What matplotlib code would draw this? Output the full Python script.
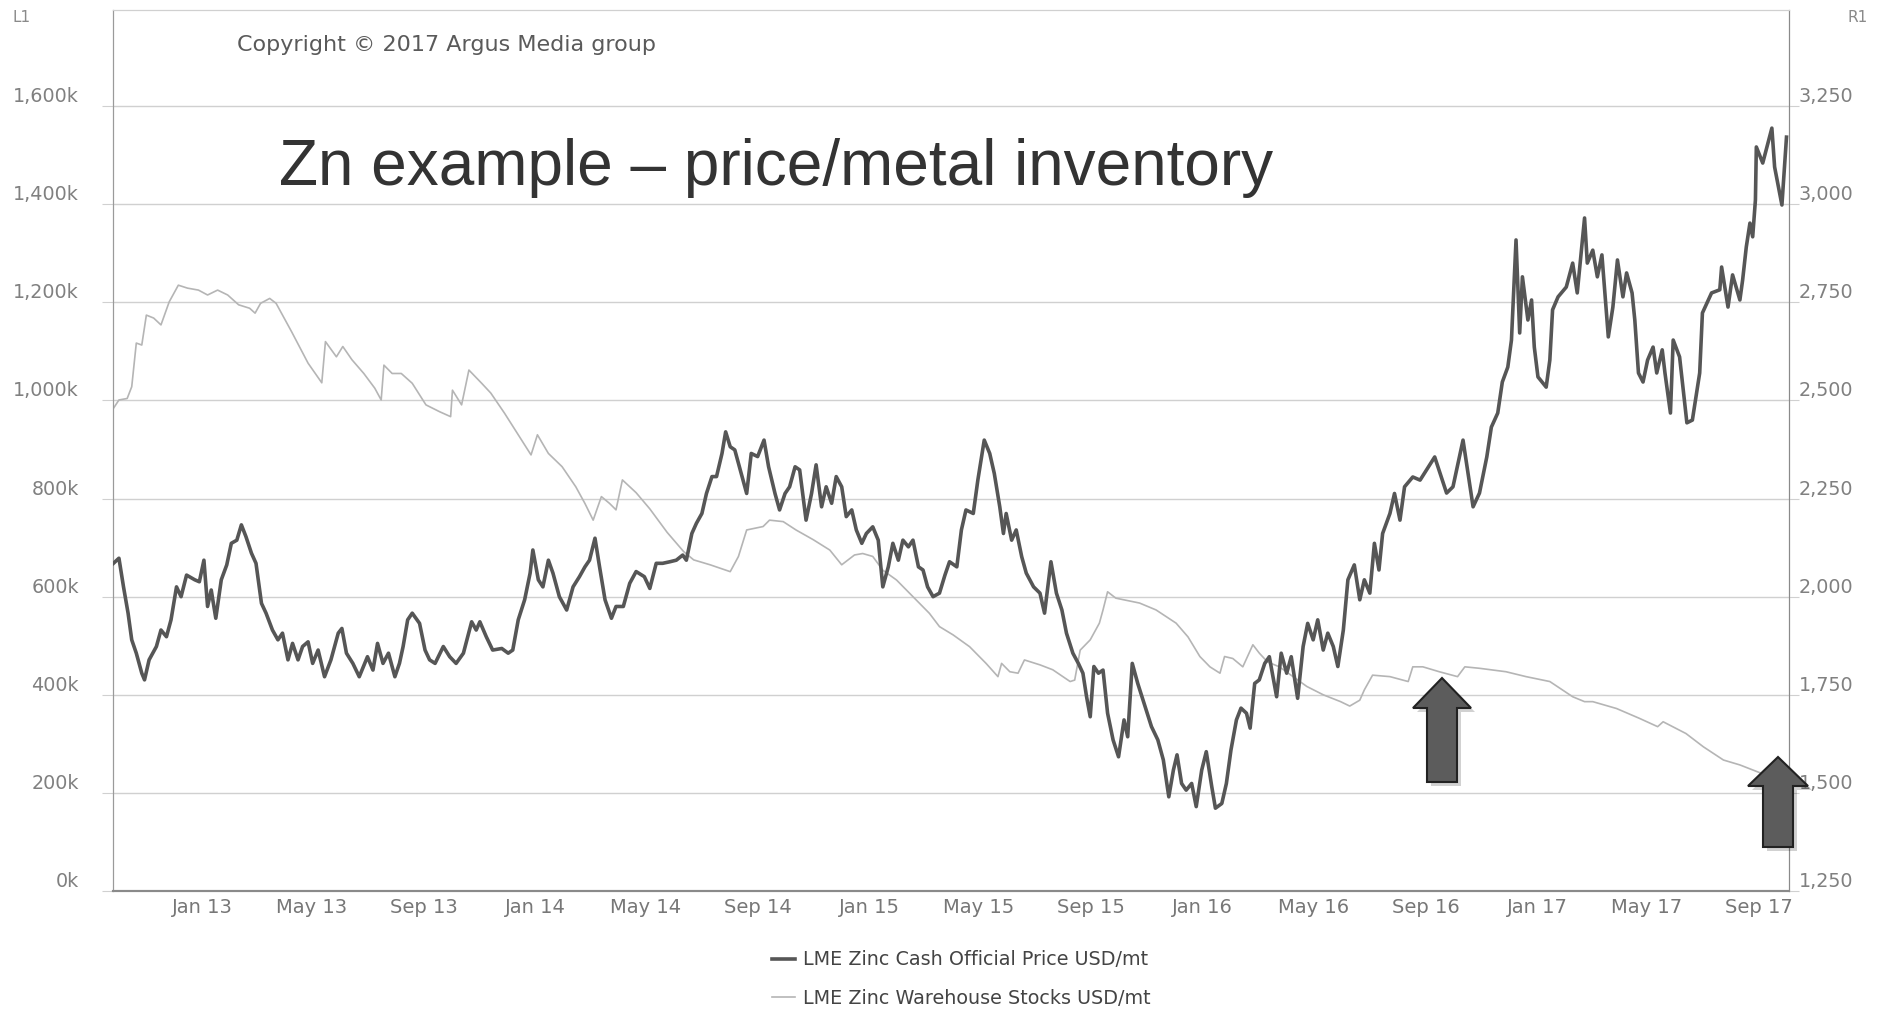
# Zn example - LME zinc price vs warehouse stocks

import pandas as pd
import matplotlib
matplotlib.use("Agg")
import matplotlib.pyplot as plt
import matplotlib.dates as mdates
from matplotlib.patches import Polygon
from matplotlib.ticker import FuncFormatter, FixedLocator

# LME Zinc Cash Official Price, USD/mt (right axis)
price_dates = [
    "2012-09-26", "2012-10-02", "2012-10-07", "2012-10-12", "2012-10-16", "2012-10-21", "2012-10-27", "2012-10-30",
    "2012-11-04", "2012-11-12", "2012-11-17", "2012-11-23", "2012-11-28", "2012-12-04", "2012-12-09", "2012-12-15",
    "2012-12-24", "2012-12-29", "2013-01-03", "2013-01-07", "2013-01-11", "2013-01-16", "2013-01-22", "2013-01-28",
    "2013-02-02", "2013-02-08", "2013-02-13", "2013-02-18", "2013-02-24", "2013-03-01", "2013-03-07", "2013-03-12",
    "2013-03-19", "2013-03-25", "2013-03-30", "2013-04-05", "2013-04-10", "2013-04-16", "2013-04-21", "2013-04-27",
    "2013-05-02", "2013-05-08", "2013-05-15", "2013-05-22", "2013-05-30", "2013-06-03", "2013-06-08", "2013-06-15",
    "2013-06-22", "2013-07-01", "2013-07-07", "2013-07-12", "2013-07-18", "2013-07-24", "2013-07-31", "2013-08-05",
    "2013-08-09", "2013-08-14", "2013-08-19", "2013-08-27", "2013-09-02", "2013-09-07", "2013-09-13", "2013-09-22",
    "2013-09-29", "2013-10-06", "2013-10-14", "2013-10-23", "2013-10-28", "2013-11-01", "2013-11-08", "2013-11-15",
    "2013-11-25", "2013-12-02", "2013-12-07", "2013-12-13", "2013-12-20", "2013-12-26", "2013-12-29", "2014-01-04",
    "2014-01-09", "2014-01-15", "2014-01-20", "2014-01-27", "2014-02-04", "2014-02-11", "2014-02-18", "2014-02-24",
    "2014-03-01", "2014-03-07", "2014-03-12", "2014-03-18", "2014-03-25", "2014-03-30", "2014-04-07", "2014-04-14",
    "2014-04-21", "2014-04-30", "2014-05-06", "2014-05-13", "2014-05-20", "2014-05-28", "2014-06-04", "2014-06-11",
    "2014-06-15", "2014-06-21", "2014-06-26", "2014-07-02", "2014-07-07", "2014-07-13", "2014-07-18", "2014-07-24",
    "2014-07-28", "2014-08-02", "2014-08-07", "2014-08-12", "2014-08-20", "2014-08-25", "2014-09-01", "2014-09-08",
    "2014-09-13", "2014-09-20", "2014-09-25", "2014-10-01", "2014-10-06", "2014-10-12", "2014-10-17", "2014-10-24",
    "2014-10-30", "2014-11-04", "2014-11-10", "2014-11-15", "2014-11-21", "2014-11-26", "2014-12-02", "2014-12-07",
    "2014-12-13", "2014-12-18", "2014-12-24", "2014-12-29", "2015-01-05", "2015-01-11", "2015-01-16", "2015-01-22",
    "2015-01-27", "2015-02-02", "2015-02-07", "2015-02-13", "2015-02-18", "2015-02-24", "2015-03-01", "2015-03-06",
    "2015-03-12", "2015-03-19", "2015-03-25", "2015-03-30", "2015-04-07", "2015-04-12", "2015-04-17", "2015-04-25",
    "2015-04-30", "2015-05-07", "2015-05-13", "2015-05-18", "2015-05-24", "2015-05-28", "2015-05-31", "2015-06-06",
    "2015-06-11", "2015-06-17", "2015-06-22", "2015-06-30", "2015-07-07", "2015-07-12", "2015-07-19", "2015-07-25",
    "2015-07-31", "2015-08-05", "2015-08-12", "2015-08-18", "2015-08-23", "2015-08-27", "2015-08-31", "2015-09-04",
    "2015-09-09", "2015-09-14", "2015-09-19", "2015-09-25", "2015-10-01", "2015-10-07", "2015-10-11", "2015-10-16",
    "2015-10-22", "2015-10-30", "2015-11-06", "2015-11-13", "2015-11-19", "2015-11-25", "2015-11-30", "2015-12-04",
    "2015-12-09", "2015-12-14", "2015-12-20", "2015-12-25", "2015-12-31", "2016-01-05", "2016-01-11", "2016-01-15",
    "2016-01-22", "2016-01-27", "2016-02-01", "2016-02-07", "2016-02-12", "2016-02-18", "2016-02-22", "2016-02-27",
    "2016-03-03", "2016-03-09", "2016-03-14", "2016-03-22", "2016-03-27", "2016-04-02", "2016-04-07", "2016-04-14",
    "2016-04-20", "2016-04-25", "2016-05-01", "2016-05-06", "2016-05-12", "2016-05-17", "2016-05-23", "2016-05-28",
    "2016-06-03", "2016-06-08", "2016-06-15", "2016-06-21", "2016-06-26", "2016-07-02", "2016-07-07", "2016-07-12",
    "2016-07-16", "2016-07-24", "2016-07-29", "2016-08-04", "2016-08-09", "2016-08-18", "2016-08-26", "2016-09-11",
    "2016-09-24", "2016-10-01", "2016-10-12", "2016-10-23", "2016-10-30", "2016-11-07", "2016-11-12", "2016-11-19",
    "2016-11-24", "2016-11-30", "2016-12-04", "2016-12-09", "2016-12-13", "2016-12-16", "2016-12-22", "2016-12-26",
    "2016-12-29", "2017-01-02", "2017-01-11", "2017-01-15", "2017-01-18", "2017-01-24", "2017-02-02", "2017-02-09",
    "2017-02-14", "2017-02-22", "2017-02-25", "2017-03-03", "2017-03-08", "2017-03-13", "2017-03-18", "2017-03-20",
    "2017-03-25", "2017-03-30", "2017-04-05", "2017-04-09", "2017-04-15", "2017-04-18", "2017-04-22", "2017-04-27",
    "2017-05-02", "2017-05-08", "2017-05-12", "2017-05-18", "2017-05-21", "2017-05-27", "2017-05-30", "2017-06-06",
    "2017-06-14", "2017-06-20", "2017-06-28", "2017-07-01", "2017-07-11", "2017-07-20", "2017-07-22", "2017-07-29",
    "2017-08-03", "2017-08-11", "2017-08-14", "2017-08-18", "2017-08-22", "2017-08-25", "2017-08-28", "2017-08-29",
    "2017-09-05", "2017-09-15", "2017-09-18", "2017-09-26", "2017-10-01",
]
price_values = [
    2085, 2098, 2025, 1958, 1890, 1856, 1805, 1788,
    1839, 1873, 1915, 1898, 1941, 2025, 2000, 2055,
    2043, 2038, 2093, 1975, 2017, 1945, 2043, 2081,
    2136, 2144, 2183, 2153, 2111, 2085, 1983, 1958,
    1915, 1890, 1907, 1839, 1881, 1839, 1873, 1885,
    1830, 1864, 1796, 1839, 1907, 1919, 1856, 1830,
    1796, 1847, 1813, 1881, 1830, 1856, 1796, 1830,
    1873, 1941, 1958, 1932, 1864, 1839, 1830, 1873,
    1847, 1830, 1856, 1936, 1915, 1936, 1898, 1864,
    1868, 1856, 1864, 1941, 1992, 2060, 2119, 2043,
    2025, 2093, 2060, 2000, 1966, 2025, 2051, 2076,
    2093, 2149, 2076, 1992, 1945, 1975, 1975, 2034,
    2064, 2051, 2021, 2085, 2085, 2089, 2093, 2106,
    2093, 2161, 2187, 2212, 2263, 2306, 2306, 2365,
    2420, 2382, 2374, 2331, 2263, 2365, 2357, 2399,
    2331, 2263, 2221, 2263, 2280, 2331, 2323, 2195,
    2263, 2336, 2229, 2280, 2238, 2306, 2280, 2204,
    2221, 2170, 2136, 2161, 2178, 2144, 2025, 2076,
    2136, 2093, 2144, 2127, 2144, 2076, 2068, 2025,
    2000, 2009, 2055, 2089, 2076, 2170, 2221, 2212,
    2297, 2399, 2365, 2314, 2229, 2161, 2212, 2144,
    2170, 2102, 2060, 2025, 2009, 1958, 2089, 2009,
    1966, 1907, 1856, 1830, 1805, 1745, 1694, 1822,
    1805, 1813, 1703, 1635, 1592, 1686, 1643, 1830,
    1779, 1720, 1669, 1635, 1584, 1490, 1558, 1597,
    1524, 1507, 1524, 1465, 1558, 1605, 1516, 1461,
    1473, 1524, 1609, 1686, 1716, 1703, 1665, 1779,
    1788, 1830, 1847, 1745, 1856, 1805, 1847, 1741,
    1873, 1932, 1890, 1941, 1864, 1907, 1873, 1822,
    1915, 2043, 2081, 1992, 2043, 2009, 2136, 2068,
    2161, 2212, 2263, 2195, 2280, 2305, 2297, 2356,
    2264, 2280, 2399, 2229, 2264, 2356, 2432, 2468,
    2547, 2585, 2654, 2909, 2672, 2815, 2705, 2756,
    2636, 2560, 2534, 2603, 2731, 2764, 2789, 2850,
    2774, 2965, 2850, 2883, 2815, 2871, 2723, 2662,
    2738, 2858, 2764, 2825, 2774, 2705, 2570, 2547,
    2603, 2636, 2570, 2629, 2570, 2468, 2654, 2611,
    2443, 2450, 2570, 2723, 2774, 2782, 2840, 2738,
    2820, 2756, 2807, 2891, 2952, 2917, 3011, 3146,
    3105, 3194, 3095, 2998, 3171,
]

# LME Zinc Warehouse Stocks, thousand t (left axis)
stock_dates = [
    "2012-09-26", "2012-10-02", "2012-10-11", "2012-10-16", "2012-10-21", "2012-10-27", "2012-11-01", "2012-11-09",
    "2012-11-17", "2012-11-26", "2012-12-06", "2012-12-16", "2012-12-28", "2013-01-07", "2013-01-18", "2013-01-29",
    "2013-02-10", "2013-02-22", "2013-02-28", "2013-03-06", "2013-03-16", "2013-03-23", "2013-04-09", "2013-04-27",
    "2013-05-12", "2013-05-16", "2013-05-28", "2013-06-04", "2013-06-14", "2013-06-27", "2013-07-09", "2013-07-16",
    "2013-07-19", "2013-07-28", "2013-08-07", "2013-08-19", "2013-09-03", "2013-09-18", "2013-09-30", "2013-10-02",
    "2013-10-12", "2013-10-20", "2013-11-03", "2013-11-13", "2013-11-28", "2013-12-12", "2013-12-27", "2014-01-03",
    "2014-01-15", "2014-01-30", "2014-02-14", "2014-02-24", "2014-03-05", "2014-03-14", "2014-03-23", "2014-03-30",
    "2014-04-06", "2014-04-21", "2014-05-06", "2014-05-25", "2014-06-12", "2014-06-23", "2014-07-11", "2014-08-02",
    "2014-08-11", "2014-08-20", "2014-09-07", "2014-09-14", "2014-09-29", "2014-10-13", "2014-11-01", "2014-11-19",
    "2014-12-02", "2014-12-16", "2014-12-25", "2015-01-05", "2015-01-16", "2015-01-31", "2015-02-18", "2015-03-08",
    "2015-03-19", "2015-04-03", "2015-04-21", "2015-05-09", "2015-05-22", "2015-05-26", "2015-06-04", "2015-06-13",
    "2015-06-20", "2015-07-07", "2015-07-21", "2015-08-09", "2015-08-14", "2015-08-20", "2015-08-31", "2015-09-10",
    "2015-09-14", "2015-09-19", "2015-09-28", "2015-10-24", "2015-11-11", "2015-12-03", "2015-12-16", "2015-12-29",
    "2016-01-09", "2016-01-20", "2016-01-25", "2016-02-03", "2016-02-14", "2016-02-25", "2016-03-03", "2016-03-12",
    "2016-03-25", "2016-04-09", "2016-04-24", "2016-05-12", "2016-05-31", "2016-06-10", "2016-06-21", "2016-06-26",
    "2016-07-05", "2016-07-24", "2016-08-13", "2016-08-18", "2016-08-29", "2016-09-16", "2016-10-06", "2016-10-14",
    "2016-10-30", "2016-11-28", "2016-12-20", "2017-01-15", "2017-02-09", "2017-02-22", "2017-03-03", "2017-03-29",
    "2017-04-23", "2017-05-13", "2017-05-19", "2017-06-13", "2017-07-02", "2017-07-24", "2017-08-11", "2017-09-02",
    "2017-09-24",
]
stock_values = [
    984, 1001, 1004, 1028, 1117, 1113, 1174, 1168,
    1154, 1201, 1235, 1229, 1225, 1215, 1225, 1215,
    1195, 1188, 1178, 1198, 1208, 1198, 1140, 1076,
    1036, 1120, 1089, 1110, 1083, 1055, 1025, 1001,
    1072, 1055, 1055, 1035, 991, 977, 967, 1021,
    991, 1062, 1035, 1015, 974, 933, 889, 930,
    892, 865, 824, 790, 756, 804, 790, 777,
    838, 812, 779, 731, 692, 675, 665, 651,
    682, 736, 743, 756, 753, 736, 716, 695,
    665, 685, 688, 682, 654, 634, 600, 566,
    539, 522, 498, 464, 437, 464, 447, 444,
    471, 461, 451, 427, 430, 491, 512, 546,
    573, 610, 597, 587, 573, 546, 518, 478,
    457, 444, 478, 474, 457, 502, 485, 467,
    457, 437, 417, 400, 386, 377, 389, 410,
    440, 437, 427, 457, 457, 447, 437, 457,
    454, 447, 437, 427, 396, 386, 386, 372,
    352, 335, 345, 321, 294, 267, 257, 241,
    222,
]

left_ticks = [0, 200, 400, 600, 800, 1000, 1200, 1400, 1600]
right_ticks = [1250, 1500, 1750, 2000, 2250, 2500, 2750, 3000, 3250]
legend_labels = ["LME Zinc Cash Official Price USD/mt", "LME Zinc Warehouse Stocks USD/mt"]

W, H = 1886, 1014
fig = plt.figure(figsize=(W / 100, H / 100), dpi=100)
fig.patch.set_facecolor("white")

# plot box in pixels: left 113, right 1789, top 9.5, bottom 891
ax = fig.add_axes([113 / W, 1 - 891 / H, (1789 - 113) / W, (891 - 9.5) / H])
ax2 = ax.twinx()

pd_price = pd.to_datetime(price_dates)
pd_stock = pd.to_datetime(stock_dates)

ax.plot(pd_stock, stock_values, color="#b5b5b5", lw=1.2, zorder=3)
ax2.plot(pd_price, price_values, color="#565656", lw=2.6, zorder=3)

ax.set_xlim(pd.Timestamp("2012-09-25 12:00"), pd.Timestamp("2017-10-03 18:00"))
ax.set_ylim(0, 1797)
ax2.set_ylim(1250, 1250 + 1797 / 200 * 250)

# y axes
grid_c = "#d0d0d0"
ax.yaxis.set_major_locator(FixedLocator(left_ticks))
ax.yaxis.set_major_formatter(FuncFormatter(lambda v, p: f"{v:,.0f}k"))
ax2.yaxis.set_major_locator(FixedLocator(right_ticks))
ax2.yaxis.set_major_formatter(FuncFormatter(lambda v, p: f"{v:,.0f}"))
ax.grid(axis="y", color=grid_c, lw=1)
ax.set_axisbelow(True)
ax.tick_params(axis="y", length=8, color=grid_c, pad=16.5, labelsize=13.8, labelcolor="#808080")
ax2.tick_params(axis="y", length=7, color=grid_c, pad=0, labelsize=13.8, labelcolor="#808080")
plt.setp(ax.get_yticklabels(), va="bottom")
plt.setp(ax2.get_yticklabels(), va="bottom")

# x axis
ax.xaxis.set_major_locator(mdates.MonthLocator(bymonth=[1, 5, 9]))
ax.xaxis.set_major_formatter(mdates.DateFormatter("%b %y"))
ax.tick_params(axis="x", length=0, pad=5, labelsize=14, labelcolor="#777777")

for a in (ax, ax2):
    a.spines["top"].set_color(grid_c)
    a.spines["left"].set_color("#9a9a9a")
    a.spines["right"].set_color("#8a8a8a")
    a.spines["bottom"].set_color("#8a8a8a")
    a.spines["bottom"].set_linewidth(1.5)

# texts
fig.text(22 / W, 1 - 18 / H, "L1", fontsize=11, color="#8a8a8a", ha="center", va="center")
fig.text(1858 / W, 1 - 18 / H, "R1", fontsize=11, color="#8a8a8a", ha="center", va="center")
fig.text(237 / W, 1 - 45 / H, "Copyright \u00a9 2017 Argus Media group", fontsize=16,
         color="#5a5a5a", ha="left", va="center")
fig.text(279 / W, 1 - 168 / H, "Zn example \u2013 price/metal inventory", fontsize=46,
         family="Liberation Sans", color="#333333", ha="left", va="center")

# legend
h1, = ax.plot([], [], color="#565656", lw=2.6)
h2, = ax.plot([], [], color="#b5b5b5", lw=1.2)
fig.legend([h1, h2], legend_labels, loc="center", bbox_to_anchor=(961 / W, 1 - 979 / H),
           frameon=False, fontsize=13.8, handlelength=1.2, handletextpad=0.4, labelspacing=1.0,
           labelcolor="#444444")


# block arrows (pixel coordinates of the slide overlay)
def up_arrow(cx, tip, head_base, bottom, head_half, shaft_half):
    pts = [(cx, tip), (cx + head_half, head_base), (cx + shaft_half, head_base),
           (cx + shaft_half, bottom), (cx - shaft_half, bottom), (cx - shaft_half, head_base),
           (cx - head_half, head_base)]
    shadow = [((x + 4) / W, 1 - (y + 4) / H) for x, y in pts]
    body = [(x / W, 1 - y / H) for x, y in pts]
    fig.patches.append(Polygon(shadow, closed=True, transform=fig.transFigure,
                               facecolor="black", edgecolor="none", alpha=0.18, zorder=10))
    fig.patches.append(Polygon(body, closed=True, transform=fig.transFigure,
                               facecolor="#5c5c5c", edgecolor="#222222", lw=1.5, zorder=11))


up_arrow(1442, 678, 708, 782, 29, 15)
up_arrow(1778, 757, 786, 847, 30, 15)

fig.savefig("out.png", dpi=100)
